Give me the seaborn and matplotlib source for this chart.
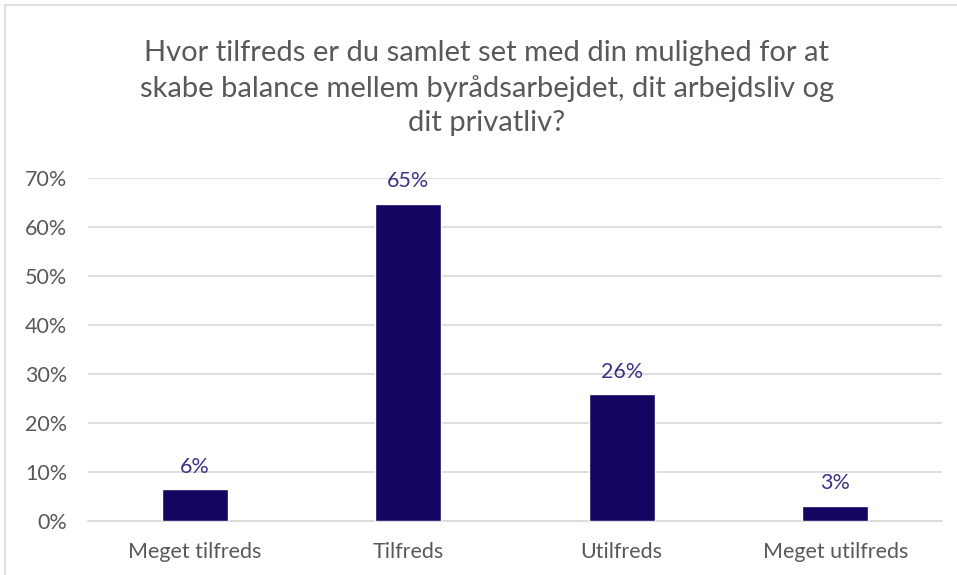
import matplotlib
matplotlib.use("Agg")
import matplotlib.pyplot as plt
import seaborn as sns
import pandas as pd
from matplotlib.patches import Rectangle

categories = ["Meget tilfreds", "Tilfreds", "Utilfreds", "Meget utilfreds"]
values = [6.5, 64.7, 25.9, 3.1]
labels = ["6%", "65%", "26%", "3%"]
yticks = [0, 10, 20, 30, 40, 50, 60, 70]
title = ("Hvor tilfreds er du samlet set med din mulighed for at\n"
         "skabe balance mellem byrådsarbejdet, dit arbejdsliv og\n"
         "dit privatliv?")

sns.set_theme(style="white")
plt.rcParams["font.family"] = ["Lato", "DejaVu Sans"]

W, H = 957, 575
fig = plt.figure(figsize=(W / 100, H / 100), dpi=100)
ax = fig.add_axes([88 / W, 1 - 521 / H, (942 - 88) / W, (521 - 178) / H])

df = pd.DataFrame({"cat": categories, "val": values})
sns.barplot(data=df, x="cat", y="val", color="#140560", saturation=1,
            width=0.31, ax=ax, zorder=3)

ax.set_xlim(-0.5, 3.5)
ax.set_ylim(0, 70)
ax.set_yticks(yticks)
ax.set_yticklabels([f"{t}%" for t in yticks])
ax.yaxis.grid(True, color="#d9d9d9", linewidth=1.2, zorder=0)
ax.set_axisbelow(True)
for s in ["top", "right", "left"]:
    ax.spines[s].set_visible(False)
ax.spines["bottom"].set_color("#d9d9d9")
ax.spines["bottom"].set_linewidth(1.2)
ax.set_xlabel("")
ax.set_ylabel("")
ax.tick_params(axis="both", length=0, labelsize=15.5, colors="#595959")
ax.tick_params(axis="y", pad=15)
ax.tick_params(axis="x", pad=15)

for i, (v, lab) in enumerate(zip(values, labels)):
    ax.annotate(lab, (i, v), xytext=(0, 9), textcoords="offset points",
                ha="center", va="bottom", fontsize=15.5, color="#3b3486")

fig.text(487 / W, 1 - 88 / H, title, ha="center", va="center",
         fontsize=21, color="#595959", linespacing=1.4)

fig.patches.append(Rectangle((5 / W, -0.1), 1.2, 1 - 5 / H + 0.1,
                             transform=fig.transFigure, fill=False,
                             edgecolor="#d9d9d9", linewidth=1.2))

fig.savefig("out.png", dpi=100, facecolor="white")
